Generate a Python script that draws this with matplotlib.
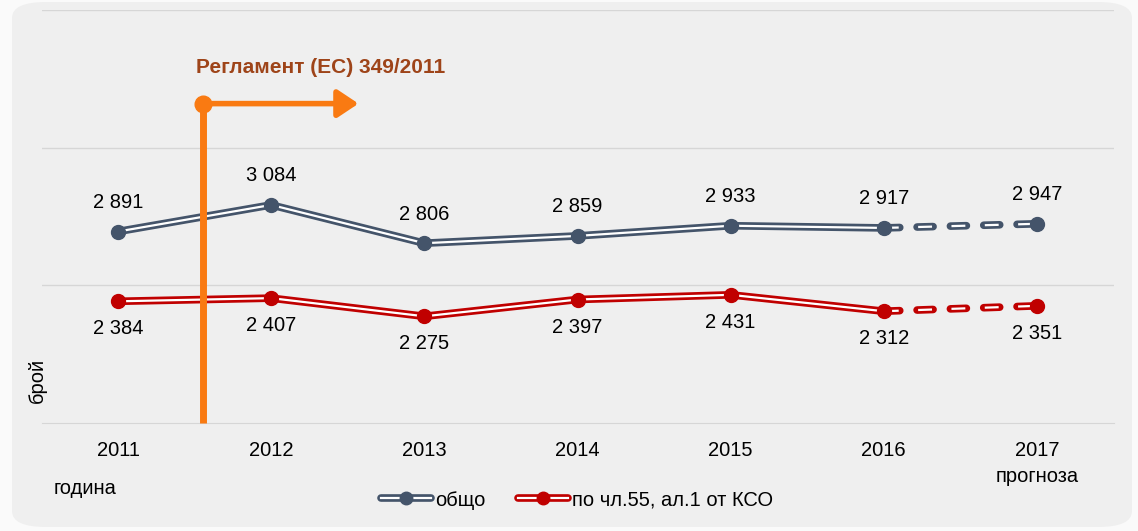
import numpy as np
import matplotlib.pyplot as plt
from matplotlib.lines import Line2D
from matplotlib.patches import FancyBboxPatch, FancyArrowPatch
from matplotlib.legend_handler import HandlerTuple

plt.rcParams['font.family'] = ['Liberation Sans', 'DejaVu Sans']
plt.rcParams['lines.scale_dashes'] = False

# данни
years = ['2011', '2012', '2013', '2014', '2015', '2016', '2017']
total = [2891, 3084, 2806, 2859, 2933, 2917, 2947]
art55 = [2384, 2407, 2275, 2397, 2431, 2312, 2351]
n_actual = 6  # 2011-2016 отчет, 2017 прогноза

c_blue = '#44546a'
c_red = '#c00000'
c_orange = '#f97a12'
fs = 14.5

fig = plt.figure(figsize=(11.38, 5.31), dpi=100)
fig.patch.set_facecolor('#fafafa')
bg = FancyBboxPatch((12 / 1138, 4 / 531), 1120 / 1138, 525 / 531,
                    boxstyle='round,pad=0,rounding_size=0.03',
                    transform=fig.transFigure, facecolor='#efefef',
                    edgecolor='none', zorder=-5)
fig.patches.append(bg)

ax = fig.add_axes([41.5 / 1138, 108 / 531, 1072 / 1138, 413 / 531])
ax.set_facecolor('none')
x = np.arange(len(years))


def double_line(xs, ys, color, dashed=False):
    if dashed:
        ax.plot(xs, ys, color=color, lw=5.5, ls=(0, (11.5, 12.5)),
                dash_capstyle='round', zorder=3)
        ax.plot(xs, ys, color='white', lw=1.6, ls=(23.25, (10, 14)),
                dash_capstyle='butt', zorder=4)
    else:
        ax.plot(xs, ys, color=color, lw=5.5, zorder=3, solid_joinstyle='miter')
        ax.plot(xs, ys, color='white', lw=1.6, zorder=4)


for vals, col in [(total, c_blue), (art55, c_red)]:
    double_line(x[:n_actual], vals[:n_actual], col)
    double_line(x[n_actual - 1:], vals[n_actual - 1:], col, dashed=True)
    ax.plot(x, vals, ls='none', marker='o', ms=10, color=col, zorder=5)

for xi, v in zip(x, total):
    ax.annotate(f'{v:,}'.replace(',', ' '), (xi, v), xytext=(0, 14),
                textcoords='offset points', ha='center', va='bottom', fontsize=fs)
for xi, v in zip(x, art55):
    ax.annotate(f'{v:,}'.replace(',', ' '), (xi, v), xytext=(0, -13),
                textcoords='offset points', ha='center', va='top', fontsize=fs)

ax.set_xlim(-0.5, 6.5)
ax.set_ylim(1500, 4500)
ax.set_yticks([2500, 3500, 4500])
ax.yaxis.grid(True, color='#d6d6d6', lw=1)
ax.set_axisbelow(True)
ax.tick_params(axis='y', left=False, labelleft=False)
ax.tick_params(axis='x', length=0, pad=13, labelsize=fs)
ax.set_xticks(x)
ax.set_xticklabels(years)
for s in ['top', 'left', 'right']:
    ax.spines[s].set_visible(False)
ax.spines['bottom'].set_color('#d6d6d6')

# регламент
reg_x = 0.555
reg_y = 3820
ax.plot([reg_x, reg_x], [1500, reg_y], color=c_orange, lw=5, solid_capstyle='butt',
        zorder=6, clip_on=False)
ax.add_patch(FancyArrowPatch((reg_x, reg_y), (1.57, reg_y), arrowstyle='-|>,head_length=0.9,head_width=0.6',
                             mutation_scale=14, color=c_orange, lw=4, zorder=6,
                             shrinkA=0, shrinkB=0))
ax.plot([reg_x], [reg_y], marker='o', ms=12, color=c_orange, zorder=7)
ax.text(0.51, 4085, 'Регламент (ЕС) 349/2011', color='#9e4419', fontsize=15,
        fontweight='bold', ha='left', va='center')

fig.text(37 / 1138, 1 - 380 / 531, 'брой', rotation=90, fontsize=fs,
         ha='center', va='center')
fig.text(85 / 1138, 1 - 489 / 531, 'година', fontsize=fs, ha='center', va='center')
fig.text(1037 / 1138, 1 - 477 / 531, 'прогноза', fontsize=fs, ha='center', va='center')

h_blue = (Line2D([], [], color=c_blue, lw=5.5, solid_capstyle='round'),
          Line2D([], [], color='white', lw=1.6),
          Line2D([], [], color=c_blue, ls='none', marker='o', ms=9))
h_red = (Line2D([], [], color=c_red, lw=5.5, solid_capstyle='round'),
         Line2D([], [], color='white', lw=1.6),
         Line2D([], [], color=c_red, ls='none', marker='o', ms=9))
fig.legend([h_blue, h_red], ['общо', 'по чл.55, ал.1 от КСО'],
           handler_map={tuple: HandlerTuple(ndivide=1, pad=0)},
           loc='center', bbox_to_anchor=(577 / 1138, 31 / 531), ncol=2, frameon=False,
           fontsize=fs, handlelength=2.5, handletextpad=0.2, columnspacing=1.6)

fig.savefig('out.png', dpi=100)
